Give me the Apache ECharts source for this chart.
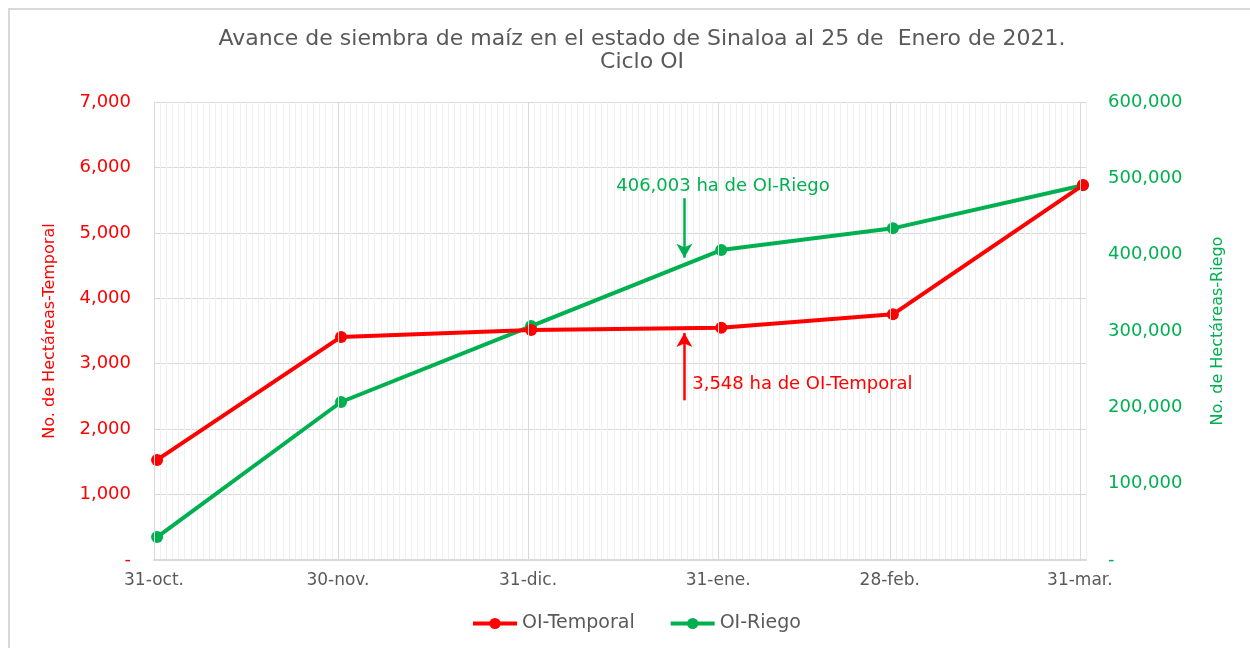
<!DOCTYPE html>
<html>
<head>
<meta charset="utf-8">
<title>Avance de siembra de maíz</title>
<script src="https://cdn.jsdelivr.net/npm/echarts@6/dist/echarts.min.js"></script>
<style>
  html, body { margin: 0; padding: 0; background: #fff; }
  #chart { width: 1250px; height: 648px; }
</style>
</head>
<body>
<div id="chart"></div>
<script>
// fechas de corte y etiquetas del eje x
var startDate = '2020-10-31';
var endDate = '2021-04-01';
var fechas = ['2020-10-31', '2020-11-30', '2020-12-31', '2021-01-31', '2021-02-28', '2021-03-31'];
var etiquetas = ['31-oct.', '30-nov.', '31-dic.', '31-ene.', '28-feb.', '31-mar.'];

// hectáreas sembradas
var temporal = [1530, 3410, 3515, 3548, 3755, 5730];
var riego = [30000, 207000, 306500, 406003, 434500, 491000];

// fecha del reporte (flechas)
var fechaReporte = '2021-01-25';

var DIA = 86400000;
function dia(f) {
  return (Date.parse(f) - Date.parse(startDate)) / DIA;
}
var totalDias = dia(endDate);
var mayores = fechas.map(dia);
var diaReporte = dia(fechaReporte) + 0.5;

function fmt(v) {
  return v === 0 ? '-' : v.toLocaleString('en-US');
}

var fuente = 'DejaVu Sans';
var rojo = '#FF0000';
var verde = '#00B050';
var gris = '#595959';

var chart = echarts.init(document.getElementById('chart'));

chart.setOption({
  textStyle: { fontFamily: fuente },
  title: {
    text: 'Avance de siembra de maíz en el estado de Sinaloa al 25 de  Enero de 2021.\nCiclo OI',
    left: 642,
    top: 28,
    padding: 0,
    textAlign: 'center',
    textStyle: { color: gris, fontSize: 22, fontWeight: 'normal', lineHeight: 23, fontFamily: fuente }
  },
  legend: {
    left: 471,
    top: 614,
    padding: 0,
    itemWidth: 44,
    itemHeight: 14,
    itemGap: 34,
    lineStyle: { width: 4 },
    textStyle: { color: gris, fontSize: 19, fontFamily: fuente },
    data: ['OI-Temporal', 'OI-Riego']
  },
  graphic: [{
    type: 'polyline',
    silent: true,
    shape: { points: [[9, 700], [9, 9], [1300, 9]] },
    style: { fill: 'none', stroke: '#d9d9d9', lineWidth: 2 }
  }],
  grid: { left: 154, right: 164, top: 102, bottom: 88 },
  xAxis: {
    type: 'value',
    min: 0,
    max: totalDias,
    interval: 1,
    axisLine: { show: true, lineStyle: { color: '#d9d9d9', width: 2 } },
    axisTick: { show: false },
    axisLabel: {
      color: gris,
      fontSize: 17,
      margin: 12,
      fontFamily: fuente,
      formatter: function (v) {
        var i = mayores.indexOf(v);
        return i >= 0 ? etiquetas[i] : '';
      }
    },
    splitLine: { show: true, lineStyle: { color: '#f0f0f0', width: 1 } }
  },
  yAxis: [{
    type: 'value',
    min: 0,
    max: 7000,
    interval: 1000,
    name: 'No. de Hectáreas-Temporal',
    nameLocation: 'middle',
    nameGap: 96,
    nameRotate: 90,
    nameTextStyle: { color: rojo, fontSize: 16, fontFamily: fuente },
    axisLine: { show: false },
    axisTick: { show: false },
    axisLabel: { color: rojo, fontSize: 18, margin: 23, formatter: fmt, fontFamily: fuente },
    splitLine: { show: true, lineStyle: { color: '#d9d9d9', width: 1 } }
  }, {
    type: 'value',
    min: 0,
    max: 600000,
    interval: 100000,
    position: 'right',
    name: 'No. de Hectáreas-Riego',
    nameLocation: 'middle',
    nameGap: 124,
    nameRotate: 90,
    nameTextStyle: { color: verde, fontSize: 16, fontFamily: fuente },
    axisLine: { show: false },
    axisTick: { show: false },
    axisLabel: { color: verde, fontSize: 18, margin: 22, formatter: fmt, fontFamily: fuente },
    splitLine: { show: false }
  }],
  series: [{
    // líneas de cuadrícula mayores (fin de mes)
    type: 'line',
    data: [],
    z: 1,
    silent: true,
    markLine: {
      silent: true,
      symbol: 'none',
      label: { show: false },
      lineStyle: { color: '#d9d9d9', width: 1, type: 'solid' },
      data: mayores.map(function (d) { return { xAxis: d }; })
    }
  }, {
    name: 'OI-Temporal',
    type: 'line',
    yAxisIndex: 0,
    z: 4,
    symbol: 'circle',
    symbolSize: 12,
    color: rojo,
    itemStyle: { color: rojo, borderWidth: 0 },
    lineStyle: { color: rojo, width: 4 },
    data: fechas.map(function (f, i) { return [dia(f) + 0.5, temporal[i]]; }),
    markLine: {
      silent: true,
      symbol: ['none', 'arrow'],
      symbolSize: [12, 14],
      label: { show: false },
      lineStyle: { color: rojo, width: 2.5, type: 'solid' },
      data: [[{ coord: [diaReporte, 2440] }, { coord: [diaReporte, 3470] }]]
    },
    markPoint: {
      silent: true,
      symbol: 'circle',
      symbolSize: 1,
      itemStyle: { color: 'rgba(0,0,0,0)' },
      label: {
        show: true,
        position: 'right',
        distance: 0,
        color: rojo,
        fontSize: 18,
        fontFamily: fuente,
        formatter: fmt(temporal[3]) + ' ha de OI-Temporal'
      },
      data: [{ coord: [diaReporte + 1.2, 2690] }]
    }
  }, {
    name: 'OI-Riego',
    type: 'line',
    yAxisIndex: 1,
    z: 3,
    symbol: 'circle',
    symbolSize: 12,
    color: verde,
    itemStyle: { color: verde, borderWidth: 0 },
    lineStyle: { color: verde, width: 4 },
    data: fechas.map(function (f, i) { return [dia(f) + 0.5, riego[i]]; }),
    markLine: {
      silent: true,
      symbol: ['none', 'arrow'],
      symbolSize: [12, 14],
      label: { show: false },
      lineStyle: { color: verde, width: 2.5, type: 'solid' },
      data: [[{ coord: [diaReporte, 474000] }, { coord: [diaReporte, 396000] }]]
    },
    markPoint: {
      silent: true,
      symbol: 'circle',
      symbolSize: 1,
      itemStyle: { color: 'rgba(0,0,0,0)' },
      label: {
        show: true,
        position: 'inside',
        color: verde,
        fontSize: 18,
        fontFamily: fuente,
        formatter: fmt(riego[3]) + ' ha de OI-Riego'
      },
      data: [{ coord: [diaReporte + 6.3, 490000] }]
    }
  }]
});
</script>
</body>
</html>
